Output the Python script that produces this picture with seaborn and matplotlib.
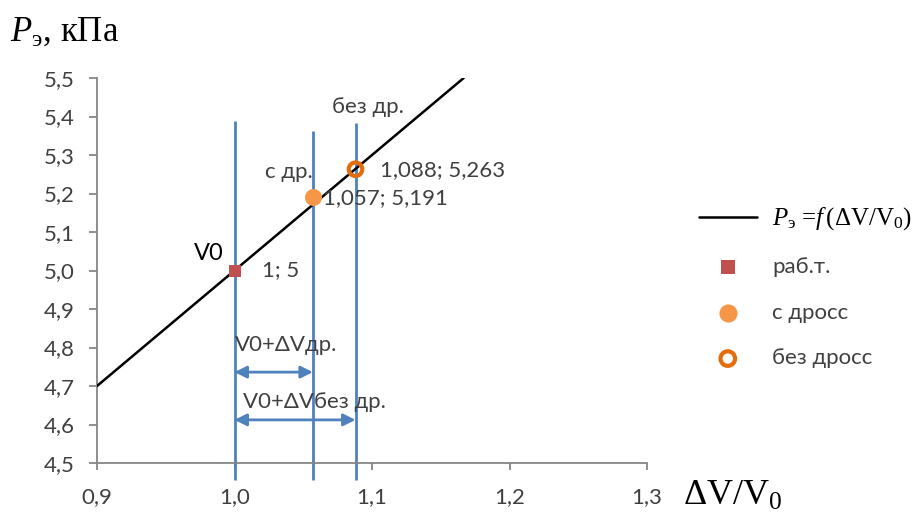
import matplotlib
matplotlib.use("Agg")
import matplotlib.pyplot as plt
import seaborn as sns
import numpy as np
from matplotlib.ticker import FixedLocator, FixedFormatter

# ---- data ----
line_x = [0.9, 1.1667]
line_y = [4.7, 5.5]
line_label = r"$P_{\mathrm{э}}$ =$f\,$(ΔV/V$_0$)"

work_x = [1.0]
work_y = [5.0]
work_label = "раб.т."

dross_x = [1.057]
dross_y = [5.191]
dross_label = "с дросс"

nodross_x = [1.088]
nodross_y = [5.263]
nodross_label = "без дросс"

vline_x = [1.0, 1.057, 1.088]
vline_top = [5.388, 5.362, 5.383]
vline_bottom = 4.456

xticks = [0.9, 1.0, 1.1, 1.2, 1.3]
xtick_labels = ["0,9", "1,0", "1,1", "1,2", "1,3"]
yticks = [4.5, 4.6, 4.7, 4.8, 4.9, 5.0, 5.1, 5.2, 5.3, 5.4, 5.5]
ytick_labels = ["4,5", "4,6", "4,7", "4,8", "4,9", "5,0", "5,1", "5,2", "5,3", "5,4", "5,5"]

point_texts = ["1; 5", "1,057; 5,191", "1,088; 5,263"]
point_text_xy = [(1.020, 5.001), (1.0644, 5.188), (1.1058, 5.261)]
marker_texts = ["с др.", "без др."]
marker_text_xy = [(1.022, 5.256), (1.071, 5.425)]

arrows = [(1.0, 1.057, 4.736, "V0+ΔVдр.", 1.0004, 4.806),
          (1.0, 1.088, 4.612, "V0+ΔVбез др.", 1.006, 4.658)]

# ---- style ----
sns.set_theme(style="white")
plt.rcParams["font.family"] = ["Lato", "DejaVu Sans"]
plt.rcParams["mathtext.fontset"] = "custom"
plt.rcParams["mathtext.rm"] = "Liberation Serif"
plt.rcParams["mathtext.it"] = "Liberation Serif:italic"
plt.rcParams["mathtext.bf"] = "Liberation Serif:bold"

BLUE = "#4F81BD"
RED = "#C0504D"
ORANGE = "#F79646"
DORANGE = "#E46C0A"
GREY = "#868686"
TXT = "#404040"
FS = 16

fig = plt.figure(figsize=(9.19, 5.17), dpi=100)
ax = fig.add_axes([97 / 919, 1 - 463 / 517, 550 / 919, 385 / 517])

# vertical blue lines
ax.vlines(vline_x, vline_bottom, vline_top, colors=BLUE, lw=2, clip_on=False, zorder=2)

# main line
sns.lineplot(x=line_x, y=line_y, color="black", lw=1.8, label=line_label, ax=ax, zorder=3)

# points
sns.scatterplot(x=work_x, y=work_y, marker="s", color=RED, s=85, linewidth=0,
                label=work_label, ax=ax, zorder=4)
sns.scatterplot(x=dross_x, y=dross_y, marker="o", color=ORANGE, s=150, linewidth=0,
                label=dross_label, ax=ax, zorder=4)
sns.scatterplot(x=nodross_x, y=nodross_y, marker="o", s=95, facecolors="none",
                edgecolors=DORANGE, linewidths=3, label=nodross_label, ax=ax, zorder=4)

# arrows
for x0, x1, y, txt, tx, ty in arrows:
    ax.annotate("", xy=(x1, y), xytext=(x0, y),
                arrowprops=dict(arrowstyle="<|-|>", color=BLUE, lw=2,
                                mutation_scale=18, shrinkA=0, shrinkB=0))
    ax.text(tx, ty, txt, fontsize=FS, color=TXT, ha="left", va="center")

for t, (tx, ty) in zip(point_texts, point_text_xy):
    ax.text(tx, ty, t, fontsize=FS, color=TXT, ha="left", va="center")
for t, (tx, ty) in zip(marker_texts, marker_text_xy):
    ax.text(tx, ty, t, fontsize=FS, color=TXT, ha="left", va="center")
ax.text(0.992, 5.045, "V0", fontsize=17, color="black", ha="right", va="center")

# axes
ax.set_xlim(0.9, 1.3)
ax.set_ylim(4.5, 5.5)
ax.xaxis.set_major_locator(FixedLocator(xticks))
ax.xaxis.set_major_formatter(FixedFormatter(xtick_labels))
ax.yaxis.set_major_locator(FixedLocator(yticks))
ax.yaxis.set_major_formatter(FixedFormatter(ytick_labels))
for s in ["top", "right"]:
    ax.spines[s].set_visible(False)
for s in ["left", "bottom"]:
    ax.spines[s].set_color(GREY)
    ax.spines[s].set_linewidth(1.3)
ax.tick_params(axis="x", direction="out", length=5, width=1.3, color=GREY,
               labelsize=FS, labelcolor=TXT, pad=12, bottom=True)
ax.tick_params(axis="y", direction="out", length=6, width=1.3, color=GREY,
               labelsize=FS, labelcolor=TXT, pad=10, left=True)
ax.set_xlabel("")
ax.set_ylabel("")

# titles
fig.text(10 / 919, 1 - 32 / 517, r"$P_{\mathrm{э}}$, кПа", fontsize=25,
         family="Liberation Serif", ha="left", va="center", color="black")
fig.text(683 / 919, 1 - 505 / 517, "ΔV/V$_0$", fontsize=26,
         family="Liberation Serif", ha="left", va="baseline", color="black")

# legend
handles, labels = ax.get_legend_handles_labels()
if ax.legend_:
    ax.legend_.remove()
leg = fig.legend(handles, labels, loc="upper left",
                 bbox_to_anchor=(690 / 919, 1 - 196 / 517), frameon=False,
                 fontsize=FS, handlelength=2.6, labelspacing=1.15,
                 handletextpad=0.7, borderaxespad=0)
for t in leg.get_texts():
    t.set_color(TXT)
leg.get_texts()[0].set_fontfamily("Liberation Serif")
leg.get_texts()[0].set_fontsize(18)
leg.get_texts()[0].set_color("black")
lh = leg.legend_handles
lh[1].set_sizes([110])
lh[2].set_sizes([170])
lh[3].set_sizes([110])

fig.savefig("out.png", dpi=100)
